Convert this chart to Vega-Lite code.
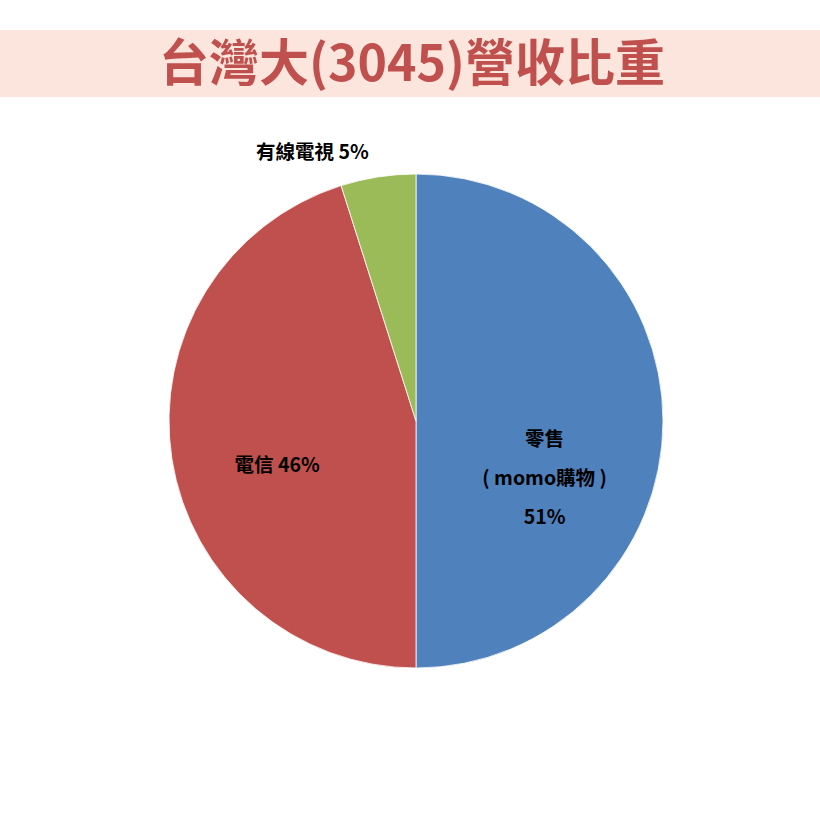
{
  "$schema": "https://vega.github.io/schema/vega-lite/v6.json",
  "padding": {"top": 30, "left": 0, "right": 0, "bottom": 0},
  "spacing": 0,
  "config": {"view": {"stroke": null}, "concat": {"spacing": 0}},
  "vconcat": [
    {
      "width": 832,
      "height": 67,
      "view": {"fill": "#fbe5dc", "stroke": null},
      "data": {"values": [{"t": "台灣大(3045)營收比重"}]},
      "mark": {
        "type": "text",
        "font": "Noto Sans CJK TC",
        "fontWeight": "bold",
        "fontSize": 50,
        "color": "#c0504d",
        "align": "center",
        "baseline": "middle",
        "dx": -4,
        "dy": 2
      },
      "encoding": {"text": {"field": "t"}}
    },
    {
      "width": 832,
      "height": 648,
      "data": {
        "values": [
          {"category": "零售（momo購物）", "value": 51, "ord": 1, "label": "零售\n( momo購物 )\n51%", "pos": 27.9, "r": 130},
          {"category": "電信", "value": 46, "ord": 2, "label": "電信 46%", "pos": 71.4, "r": 146},
          {"category": "有線電視", "value": 5, "ord": 3, "label": "有線電視 5%", "pos": 96.0, "r": 287}
        ]
      },
      "layer": [
        {
          "mark": {"type": "arc", "outerRadius": 247, "stroke": "white", "strokeWidth": 0.8},
          "encoding": {
            "theta": {"field": "value", "type": "quantitative", "stack": true, "scale": {"domain": [0, 102]}},
            "order": {"field": "ord", "type": "quantitative"},
            "color": {
              "field": "category",
              "type": "nominal",
              "scale": {"domain": ["零售（momo購物）", "電信", "有線電視"], "range": ["#4f81bd", "#c0504d", "#9bbb59"]},
              "legend": null
            }
          }
        },
        {
          "mark": {
            "type": "text",
            "font": "Noto Sans CJK TC",
            "fontWeight": "bold",
            "fontSize": 19.5,
            "color": "black",
            "align": "center",
            "baseline": "middle",
            "lineBreak": "\n",
            "lineHeight": 39
          },
          "encoding": {
            "theta": {"field": "pos", "type": "quantitative", "stack": null, "scale": {"domain": [0, 102]}},
            "radius": {"field": "r", "type": "quantitative", "scale": {"type": "linear", "zero": true, "domain": [0, 324], "range": [0, 324]}},
            "text": {"field": "label"}
          }
        }
      ]
    }
  ]
}
